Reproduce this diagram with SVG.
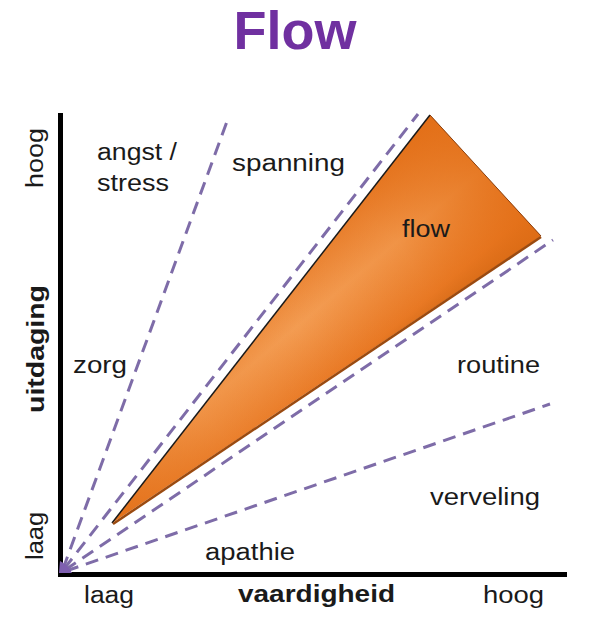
<svg xmlns="http://www.w3.org/2000/svg" width="593" height="620" viewBox="0 0 593 620">
  <style>
    .t { font-family: "Liberation Sans", Arial, sans-serif; font-size: 23px; fill: #1a1a1a; }
    .b { font-weight: bold; }
    .dash { stroke: #7E6CA8; stroke-width: 3; stroke-dasharray: 13 8; fill: none; }
  </style>
  <defs>
    <linearGradient id="cross" gradientUnits="userSpaceOnUse" x1="245" y1="270" x2="355" y2="400">
      <stop offset="0" stop-color="#E3701A"/>
      <stop offset="0.45" stop-color="#F39C52"/>
      <stop offset="0.82" stop-color="#E97A26"/>
      <stop offset="1" stop-color="#C4600F"/>
    </linearGradient>
    <radialGradient id="far" gradientUnits="userSpaceOnUse" cx="300" cy="330" r="260">
      <stop offset="0" stop-color="#E5721A" stop-opacity="0"/>
      <stop offset="0.5" stop-color="#E5721A" stop-opacity="0.2"/>
      <stop offset="1" stop-color="#E26E16" stop-opacity="0.85"/>
    </radialGradient>
  </defs>

  <g id="title">
    <text x="295" y="49" text-anchor="middle" font-family="Liberation Sans, Arial, sans-serif" font-weight="bold" font-size="54" fill="#7030A0">Flow</text>
  </g>

  <g id="flow-area">
    <polygon points="112,523 430,115 541,236" fill="url(#cross)"/>
    <polygon points="112,523 430,115 541,236" fill="url(#far)"/>
    <line x1="112" y1="523" x2="430" y2="115" stroke="#1a1a1a" stroke-width="1.5"/>
    <line x1="430" y1="115" x2="541" y2="236" stroke="#8a4010" stroke-width="1"/>
    <line x1="113" y1="524" x2="541" y2="237" stroke="#9A4A10" stroke-width="2.5"/>
  </g>

  <g id="connectors">
    <line class="dash" x1="63" y1="569" x2="229" y2="116"/>
    <line class="dash" x1="64" y1="569" x2="418" y2="114"/>
    <line class="dash" x1="65" y1="570" x2="553" y2="240"/>
    <line class="dash" x1="66" y1="571" x2="550" y2="404"/>
  </g>

  <g id="axes">
    <line x1="60.5" y1="113" x2="60.5" y2="577" stroke="#000" stroke-width="5"/>
    <line x1="58" y1="574.5" x2="567" y2="574.5" stroke="#000" stroke-width="5"/>
    <path d="M59,573 L60,561 Q68,565 72,573 Z" fill="#7E5FB0"/>
  </g>

  <g id="labels">
    <text class="t" x="97" y="160" textLength="80" lengthAdjust="spacingAndGlyphs">angst /</text>
    <text class="t" x="97" y="191" textLength="72" lengthAdjust="spacingAndGlyphs">stress</text>
    <text class="t" x="232" y="171" textLength="113" lengthAdjust="spacingAndGlyphs">spanning</text>
    <text class="t" x="402" y="237" textLength="48" lengthAdjust="spacingAndGlyphs">flow</text>
    <text class="t" x="73" y="373" textLength="54" lengthAdjust="spacingAndGlyphs">zorg</text>
    <text class="t" x="457" y="373" textLength="83" lengthAdjust="spacingAndGlyphs">routine</text>
    <text class="t" x="430" y="505" textLength="110" lengthAdjust="spacingAndGlyphs">verveling</text>
    <text class="t" x="205" y="560" textLength="90" lengthAdjust="spacingAndGlyphs">apathie</text>
    <text class="t" x="84" y="603" textLength="50" lengthAdjust="spacingAndGlyphs">laag</text>
    <text class="t b" x="238" y="602" textLength="157" lengthAdjust="spacingAndGlyphs">vaardigheid</text>
    <text class="t" x="483" y="603" textLength="61" lengthAdjust="spacingAndGlyphs">hoog</text>
    <text class="t" transform="translate(43,188) rotate(-90)" textLength="60" lengthAdjust="spacingAndGlyphs">hoog</text>
    <text class="t b" transform="translate(44,413) rotate(-90)" textLength="128" lengthAdjust="spacingAndGlyphs">uitdaging</text>
    <text class="t" transform="translate(43,560) rotate(-90)" textLength="48" lengthAdjust="spacingAndGlyphs">laag</text>
  </g>
</svg>
